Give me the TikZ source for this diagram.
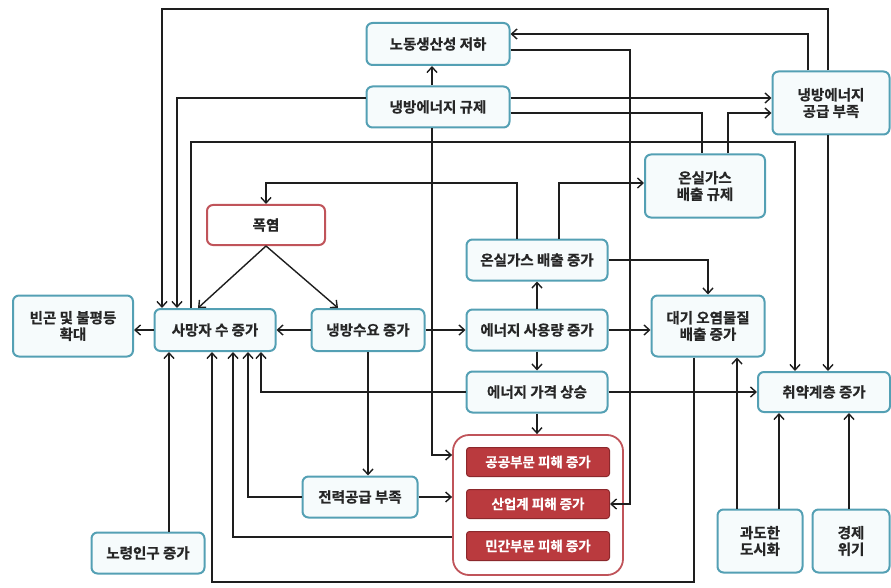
\documentclass[tikz,border=0pt]{standalone}
\usepackage{fontspec}
\newfontfamily\kr{Noto Sans CJK KR}[UprightFont={* Bold}, FakeBold=0.6]
\usetikzlibrary{arrows.meta}
\definecolor{boxblue}{RGB}{84,160,180}
\definecolor{boxfill}{RGB}{246,251,252}
\definecolor{redline}{RGB}{192,84,90}
\definecolor{redfill}{RGB}{186,58,62}
\definecolor{rededge}{RGB}{140,40,44}
\definecolor{ln}{RGB}{30,30,30}
\tikzset{
  box/.style={draw=boxblue, line width=2pt, fill=boxfill, rounded corners=6pt,
    font=\kr\fontsize{14.5}{16.5}\selectfont, text=black!85, align=center, inner sep=0pt},
  redbox/.style={box, draw=redline, fill=white},
  bigbox/.style={draw=redline, line width=1.8pt, fill=white, rounded corners=16pt, inner sep=0pt},
  dmgbox/.style={draw=rededge, line width=1pt, fill=redfill, rounded corners=3pt,
    font=\kr\fontsize{13.5}{15}\selectfont, text=white, inner sep=0pt,
    minimum width=143, minimum height=29},
  lnk/.style={draw=ln, line width=1.4pt},
  arr/.style={lnk, -{Straight Barb[length=5.5pt,width=10pt,line width=1.4pt]}}
}
\begin{document}
\begin{tikzpicture}[x=1pt,y=-1pt]
\useasboundingbox (0,0) rectangle (891,588);
% nodes
\node[box, minimum width=143, minimum height=42] (lp) at (438,44) {노동생산성 저하};
\node[box, minimum width=143, minimum height=41] (nreg) at (438,107) {냉방에너지 규제};
\node[box, minimum width=117, minimum height=63] (nsup) at (831,103) {냉방에너지\\공급 부족};
\node[box, minimum width=120, minimum height=63] (ghreg) at (705,186) {온실가스\\배출 규제};
\node[redbox, minimum width=118, minimum height=40] (heat) at (266,225) {폭염};
\node[box, minimum width=120, minimum height=61] (pov) at (73,326) {빈곤 및 불평등\\확대};
\node[box, minimum width=121, minimum height=42] (death) at (215,330) {사망자 수 증가};
\node[box, minimum width=113, minimum height=42] (cool) at (368,330) {냉방수요 증가};
\node[box, minimum width=141, minimum height=41] (ghinc) at (537,260) {온실가스 배출 증가};
\node[box, minimum width=141, minimum height=41] (euse) at (537,330) {에너지 사용량 증가};
\node[box, minimum width=113, minimum height=61] (air) at (708,326) {대기 오염물질\\배출 증가};
\node[box, minimum width=141, minimum height=41] (eprice) at (537,392) {에너지 가격 상승};
\node[box, minimum width=132, minimum height=40] (vul) at (824,392) {취약계층 증가};
\node[bigbox, minimum width=170, minimum height=140] (dmg) at (538,505) {};
\node[dmgbox] (pub) at (538,462) {공공부문 피해 증가};
\node[dmgbox] (ind) at (538,504) {산업계 피해 증가};
\node[dmgbox] (pri) at (538,546) {민간부문 피해 증가};
\node[box, minimum width=115, minimum height=41] (pwr) at (360,497) {전력공급 부족};
\node[box, minimum width=113, minimum height=41] (old) at (148,553) {노령인구 증가};
\node[box, minimum width=85, minimum height=63] (urb) at (760,541) {과도한\\도시화};
\node[box, minimum width=77, minimum height=63] (eco) at (851,541) {경제\\위기};
% connectors
\draw[arr] (nsup.north -| 828,0) |- (162,9) -- (162,0 |- death.north);
\draw[arr] (nreg.west |- 0,98) -| (177,0 |- death.north);
\draw[arr] (death.north -| 191,0) |- (795,142) -- (795,0 |- vul.north);
\draw[arr] (nreg.north -| 432,0) -- (lp.south -| 432,0);
\draw[arr] (nreg.south -| 432,0) |- (dmg.west |- 0,455);
\draw[arr] (nreg.east |- 0,98) -- (nsup.west |- 0,98);
\draw[lnk] (nreg.east |- 0,113) -| (ghreg.north -| 702,0);
\draw[arr] (ghreg.north -| 728,0) |- (nsup.west |- 0,113);
\draw[arr] (lp.east |- 0,50) -| (630,0 |- ind.east) -- (ind.east);
\draw[arr] (nsup.north -| 808,0) |- (lp.east |- 0,34);
\draw[arr] (nsup.south -| 828,0) -- (vul.north -| 828,0);
\draw[arr] (ghinc.north -| 517,0) |- (heat.north |- 0,183) -- (heat.north);
\draw[arr] (ghinc.north -| 559,0) |- (ghreg.west |- 0,183);
\draw[arr] (ghinc.east) -| (air.north);
\draw[arr] (euse.north) -- (ghinc.south);
\draw[arr] (euse.east) -- (euse.east -| air.west);
\draw[arr] (euse.south) -- (eprice.north);
\draw[arr] (eprice.south) -- (eprice.south |- dmg.north);
\draw[arr] (eprice.east) -- (vul.west);
\draw[arr] (eprice.west) -| (death.south -| 261,0);
\draw[arr] (cool.west) -- (death.east);
\draw[arr] (cool.east) -- (euse.west);
\draw[arr] (cool.south) -- (cool.south |- pwr.north);
\draw[arr] (pwr.west) -| (death.south -| 248,0);
\draw[arr] (pwr.east) -- (pwr.east -| dmg.west);
\draw[arr] (dmg.west |- 0,537) -| (death.south -| 233,0);
\draw[arr] (air.south -| 694,0) |- (212,582) -- (212,0 |- death.south);
\draw[arr] (urb.north -| 737,0) -- (air.south -| 737,0);
\draw[arr] (urb.north -| 779,0) -- (vul.south -| 779,0);
\draw[arr] (eco.north -| 849,0) -- (vul.south -| 849,0);
\draw[arr] (old.north -| 169,0) -- (death.south -| 169,0);
\draw[arr] (death.west) -- (pov.east |- death.west);
\draw[arr] (heat.south) -- (death.north -| 198,0);
\draw[arr] (heat.south) -- (cool.north -| 338,0);
\end{tikzpicture}
\end{document}
